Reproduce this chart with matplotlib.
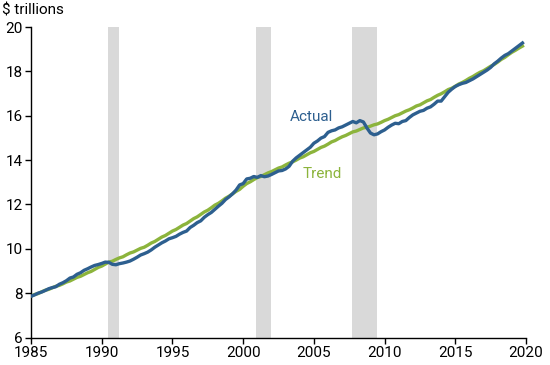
import numpy as np
import matplotlib
matplotlib.use('Agg')
import matplotlib.pyplot as plt

plt.rcParams['font.family'] = ['Roboto', 'DejaVu Sans']

# квартальные значения, $ трлн, 1985Q1 - 2019Q4
actual = [
    7.86, 7.92, 8.00, 8.05,
    8.12, 8.20, 8.25, 8.29,
    8.40, 8.47, 8.56, 8.68,
    8.73, 8.85, 8.92, 9.03,
    9.10, 9.18, 9.25, 9.29,
    9.34, 9.40, 9.39, 9.30,
    9.28, 9.33, 9.36, 9.40,
    9.45, 9.53, 9.62, 9.72,
    9.78, 9.85, 9.95, 10.07,
    10.17, 10.27, 10.35, 10.45,
    10.50, 10.56, 10.66, 10.74,
    10.80, 10.96, 11.06, 11.18,
    11.26, 11.42, 11.54, 11.64,
    11.78, 11.92, 12.05, 12.22,
    12.34, 12.48, 12.65, 12.88,
    12.94, 13.15, 13.18, 13.26,
    13.22, 13.30, 13.25, 13.28,
    13.35, 13.43, 13.51, 13.53,
    13.60, 13.72, 13.95, 14.10,
    14.22, 14.34, 14.46, 14.58,
    14.76, 14.86, 14.99, 15.06,
    15.25, 15.32, 15.36, 15.45,
    15.50, 15.58, 15.66, 15.74,
    15.68, 15.78, 15.72, 15.45,
    15.22, 15.14, 15.18, 15.28,
    15.36, 15.48, 15.58, 15.66,
    15.64, 15.74, 15.78, 15.92,
    16.04, 16.12, 16.20, 16.24,
    16.34, 16.40, 16.52, 16.66,
    16.66, 16.86, 17.06, 17.20,
    17.32, 17.40, 17.46, 17.50,
    17.58, 17.66, 17.76, 17.86,
    17.96, 18.06, 18.18, 18.34,
    18.46, 18.60, 18.72, 18.80,
    18.92, 19.04, 19.16, 19.28,
]

trend = [
    7.86, 7.94, 7.98, 8.06,
    8.13, 8.17, 8.24, 8.31,
    8.35, 8.42, 8.50, 8.55,
    8.63, 8.71, 8.76, 8.84,
    8.92, 8.98, 9.07, 9.16,
    9.22, 9.31, 9.40, 9.44,
    9.52, 9.59, 9.64, 9.73,
    9.81, 9.86, 9.94, 10.02,
    10.07, 10.16, 10.26, 10.33,
    10.43, 10.53, 10.60, 10.70,
    10.80, 10.87, 10.97, 11.07,
    11.14, 11.25, 11.36, 11.44,
    11.55, 11.66, 11.74, 11.85,
    11.97, 12.05, 12.16, 12.28,
    12.37, 12.48, 12.59, 12.68,
    12.82, 12.94, 13.02, 13.12,
    13.21, 13.26, 13.34, 13.42,
    13.48, 13.56, 13.64, 13.69,
    13.78, 13.86, 13.92, 14.00,
    14.09, 14.15, 14.24, 14.33,
    14.39, 14.48, 14.57, 14.63,
    14.72, 14.82, 14.88, 14.97,
    15.05, 15.11, 15.19, 15.27,
    15.31, 15.38, 15.45, 15.48,
    15.53, 15.59, 15.63, 15.70,
    15.78, 15.84, 15.92, 16.00,
    16.05, 16.13, 16.21, 16.27,
    16.35, 16.44, 16.49, 16.58,
    16.67, 16.73, 16.83, 16.92,
    16.99, 17.08, 17.18, 17.24,
    17.33, 17.43, 17.50, 17.59,
    17.69, 17.77, 17.87, 17.96,
    18.03, 18.13, 18.23, 18.31,
    18.42, 18.54, 18.63, 18.75,
    18.86, 18.95, 19.05, 19.14,
]

# периоды рецессий (годы)
recessions = [(1990.45, 1991.2), (2000.9, 2001.95), (2007.7, 2009.45)]

x_ticks = [1985, 1990, 1995, 2000, 2005, 2010, 2015, 2020]
y_ticks = [6, 8, 10, 12, 14, 16, 18, 20]

blue = '#2d5f8f'
green = '#8cb43c'

years = 1985 + np.arange(len(actual)) * 0.25

fig = plt.figure(figsize=(5.5, 3.65), dpi=100)
ax = fig.add_axes([0.0564, 0.0753, 0.9, 0.8507])

for start, end in recessions:
    ax.axvspan(start, end, color='#d9d9d9', lw=0, zorder=0)

ax.plot(years, trend, color=green, lw=2.4, zorder=2)
ax.plot(years, actual, color=blue, lw=2.4, zorder=3)

ax.text(2003.3, 15.96, 'Actual', color=blue, fontsize=11, va='center', ha='left')
ax.text(2004.2, 13.38, 'Trend', color=green, fontsize=11, va='center', ha='left')

ax.set_xlim(1985, 2020)
ax.set_ylim(6, 20)
ax.set_xticks(x_ticks)
ax.set_yticks(y_ticks)
ax.tick_params(axis='both', length=4, width=1, labelsize=11, colors='black', pad=2)

for side in ['top', 'right']:
    ax.spines[side].set_visible(False)
for side in ['left', 'bottom']:
    ax.spines[side].set_linewidth(1)

fig.text(0.004, 0.972, '$ trillions', fontsize=11, va='center', ha='left')

fig.savefig('out.png', dpi=100)
